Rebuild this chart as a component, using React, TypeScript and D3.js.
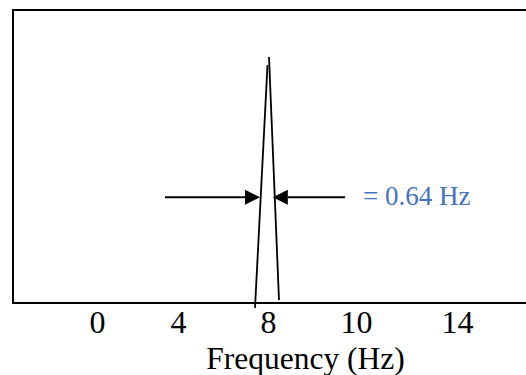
import React, { useEffect, useRef } from "react";
import * as d3 from "d3";

// Peak outline: two nearly straight edges of a sharp spectral line (frequency in Hz, relative amplitude)
const leftEdgeFreq = [7.35, 7.975];
const leftEdgeAmp = [-0.02, 0.967];
const rightEdgeFreq = [8.55, 8.05];
const rightEdgeAmp = [0.012, 1.0];

// Width markers (FWHM arrows)
const arrowLevel = 0.43;
const leftArrowFreq = [2.85, 7.6];
const rightArrowFreq = [11.85, 8.24];
const widthLabel = "= 0.64 Hz";
const widthLabelFreq = 12.75;

// Axis tick labels and where they sit along the frequency axis
const tickLabels = ["0", "4", "8", "10", "14"];
const tickPositions = [-0.55, 3.5, 8, 12.4, 17.45];
const xTitle = "Frequency (Hz)";

const W = 526;
const H = 375;

export default function App() {
  const ref = useRef<SVGSVGElement | null>(null);

  useEffect(() => {
    const svg = d3.select(ref.current);
    svg.selectAll("*").remove();

    const left = 13;
    const top = 10;
    const bottom = 303;
    const x = d3.scaleLinear().domain([-4.75, 20.9]).range([left, 526]);
    const y = d3.scaleLinear().domain([0, 1]).range([bottom, 57]);
    const serif = "'Liberation Serif', 'Times New Roman', serif";

    // frame (right side runs off the canvas)
    svg
      .append("rect")
      .attr("x", left)
      .attr("y", top)
      .attr("width", 560)
      .attr("height", bottom - top)
      .attr("fill", "none")
      .attr("stroke", "#000")
      .attr("stroke-width", 2);

    const line = d3
      .line<[number, number]>()
      .x((d) => x(d[0]))
      .y((d) => y(d[1]));

    const edges: [number[], number[]][] = [
      [leftEdgeFreq, leftEdgeAmp],
      [rightEdgeFreq, rightEdgeAmp],
    ];
    edges.forEach(([fs, as]) => {
      svg
        .append("path")
        .attr("d", line(fs.map((f, i) => [f, as[i]] as [number, number])))
        .attr("fill", "none")
        .attr("stroke", "#000")
        .attr("stroke-width", 1.8);
    });

    // arrows
    const headLen = 15;
    const headHalf = 7.5;
    [leftArrowFreq, rightArrowFreq].forEach((fs) => {
      const x0 = x(fs[0]);
      const x1 = x(fs[1]);
      const yy = y(arrowLevel);
      const dir = Math.sign(x1 - x0);
      svg
        .append("line")
        .attr("x1", x0)
        .attr("x2", x1 - dir * headLen)
        .attr("y1", yy)
        .attr("y2", yy)
        .attr("stroke", "#000")
        .attr("stroke-width", 2);
      svg
        .append("path")
        .attr(
          "d",
          `M${x1},${yy}L${x1 - dir * headLen},${yy - headHalf}L${x1 - dir * headLen},${yy + headHalf}Z`
        )
        .attr("fill", "#000");
    });

    svg
      .append("text")
      .attr("x", x(widthLabelFreq))
      .attr("y", y(arrowLevel) + 8)
      .attr("font-family", serif)
      .attr("font-size", 27)
      .attr("fill", "#4472C4")
      .text(widthLabel);

    // x axis labels
    const axis = d3
      .axisBottom(x)
      .tickValues(tickPositions)
      .tickFormat((_d, i) => tickLabels[i])
      .tickSize(0)
      .tickPadding(0);
    const g = svg.append("g").attr("transform", `translate(0,${bottom})`).call(axis);
    g.select(".domain").remove();
    g.attr("font-family", serif).attr("font-size", 32);
    g.selectAll("text")
      .attr("font-family", serif)
      .attr("font-size", 32)
      .attr("fill", "#000")
      .attr("dy", null)
      .attr("y", 30);

    svg
      .append("text")
      .attr("x", 305.5)
      .attr("y", 368.5)
      .attr("text-anchor", "middle")
      .attr("font-family", serif)
      .attr("font-size", 31.5)
      .attr("fill", "#000")
      .text(xTitle);
  }, []);

  return (
    <svg
      ref={ref}
      width={W}
      height={H}
      style={{ position: "absolute", left: 0, top: 0, background: "#fff" }}
    />
  );
}
